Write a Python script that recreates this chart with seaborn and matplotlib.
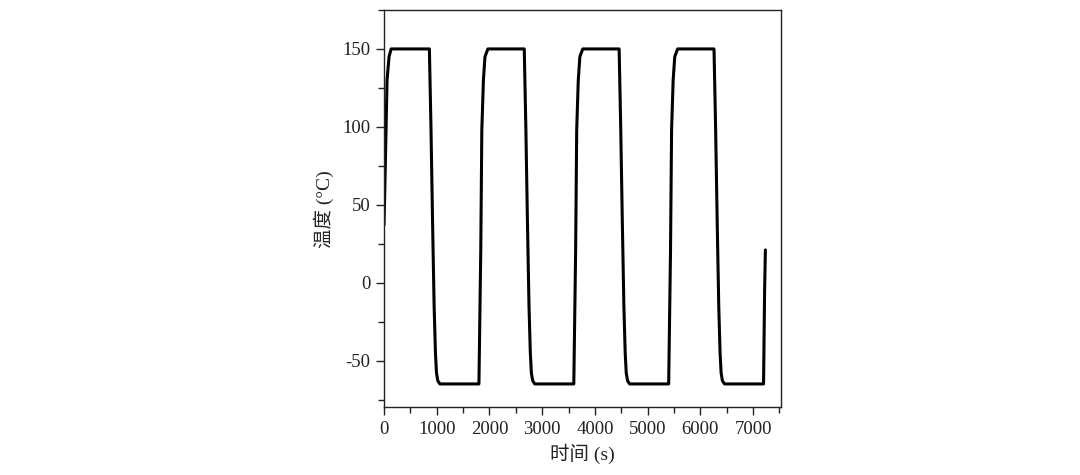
import numpy as np
import pandas as pd
import seaborn as sns
import matplotlib.pyplot as plt
from matplotlib.ticker import MultipleLocator

# Temperature cycling profile (time in s, temperature in degC)
time_s = [
    0, 38, 57, 95, 135,
    860, 890, 920, 950, 975, 995, 1020, 1060,
    1800, 1835, 1855, 1885, 1915, 1970,
    2660, 2690, 2720, 2750, 2775, 2795, 2820, 2860,
    3600, 3635, 3655, 3685, 3715, 3770,
    4460, 4490, 4520, 4550, 4575, 4595, 4620, 4660,
    5400, 5435, 5455, 5485, 5515, 5570,
    6260, 6290, 6320, 6350, 6375, 6395, 6420, 6460,
    7200, 7220, 7235,
]
temp_c = [
    37, 98, 130, 145, 150,
    150, 100, 40, -15, -45, -58, -63, -65,
    -65, 21, 98, 130, 145, 150,
    150, 100, 40, -15, -45, -58, -63, -65,
    -65, 21, 98, 130, 145, 150,
    150, 100, 40, -15, -45, -58, -63, -65,
    -65, 21, 98, 130, 145, 150,
    150, 100, 40, -15, -45, -58, -63, -65,
    -65, -5, 21,
]

X_TICKS = [0, 1000, 2000, 3000, 4000, 5000, 6000, 7000]
Y_TICKS = [-50, 0, 50, 100, 150]

FONTS = ['Liberation Serif', 'Noto Sans CJK SC', 'DejaVu Sans']


def main():
    sns.set_style('ticks')
    plt.rcParams['font.family'] = FONTS
    plt.rcParams['axes.unicode_minus'] = False

    df = pd.DataFrame({'t': time_s, 'T': temp_c})

    fig = plt.figure(figsize=(10.8, 4.75), dpi=100)
    ax = fig.add_axes([0.3556, 0.1425, 0.3675, 0.8365])

    sns.lineplot(data=df, x='t', y='T', color='black', linewidth=2.2,
                 sort=False, ax=ax)

    ax.set_xlim(0, 7530)
    ax.set_ylim(-80, 175)
    ax.set_xticks(X_TICKS)
    ax.set_yticks(Y_TICKS)
    ax.xaxis.set_minor_locator(MultipleLocator(500))
    ax.yaxis.set_minor_locator(MultipleLocator(25))

    ax.tick_params(which='major', direction='out', length=6, width=1.0,
                   labelsize=13.5, colors='#222222', pad=4)
    ax.tick_params(which='minor', direction='out', length=4, width=1.0,
                   colors='#222222')
    ax.tick_params(top=False, right=False, which='both')

    for side in ['top', 'right', 'bottom', 'left']:
        ax.spines[side].set_visible(True)
        ax.spines[side].set_color('#222222')
        ax.spines[side].set_linewidth(1.0)

    ax.set_xlabel('时间 (s)', fontsize=14, color='#222222', labelpad=4)
    ax.set_ylabel('温度 (°C)', fontsize=14, color='#222222', labelpad=6)

    fig.savefig('out.png', dpi=100)


if __name__ == '__main__':
    main()
